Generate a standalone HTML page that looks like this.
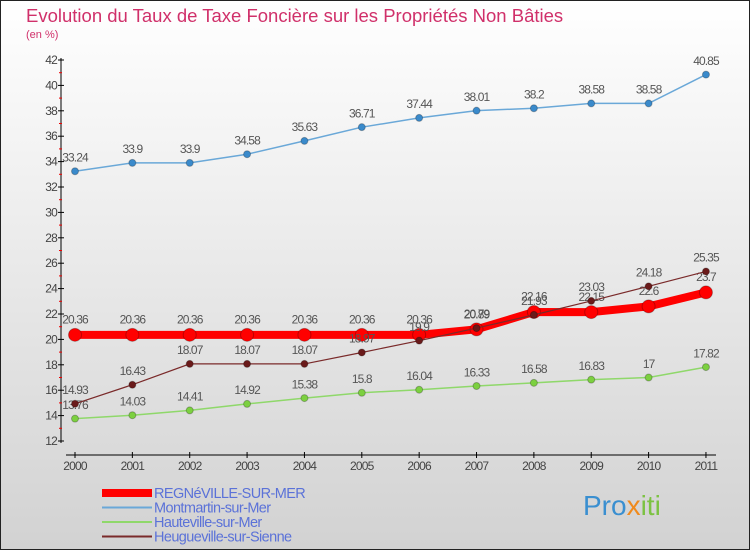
<!DOCTYPE html>
<html><head><meta charset="utf-8"><style>
body{margin:0;width:750px;height:550px;overflow:hidden;font-family:"Liberation Sans",sans-serif}
</style></head><body>
<svg id="c" width="750" height="550" xmlns="http://www.w3.org/2000/svg">
<defs><linearGradient id="bg" x1="0" y1="0" x2="0" y2="1"><stop offset="0" stop-color="#ffffff"/><stop offset="1" stop-color="#d2d2d2"/></linearGradient></defs>
<rect x="0.5" y="0.5" width="749" height="549" fill="url(#bg)" stroke="#222"/>
<text x="26" y="22" font-size="18.5" fill="#d0306a">Evolution du Taux de Taxe Foncière sur les Propriétés Non Bâties</text>
<text x="26" y="38" font-size="11" fill="#d0306a">(en %)</text>
<g id="axes"></g><g id="series"></g><g id="legend"></g>
<text x="583" y="515" font-size="28" fill="#3a8fd0">Pro<tspan fill="#f08a1c">x</tspan><tspan fill="#7cc242">iti</tspan></text>
</svg>
<script>
const years=["2000","2001","2002","2003","2004","2005","2006","2007","2008","2009","2010","2011"];
const yTicks=[12,14,16,18,20,22,24,26,28,30,32,34,36,38,40,42];
const regneville=[20.36,20.36,20.36,20.36,20.36,20.36,20.36,20.79,22.16,22.15,22.6,23.7];
const montmartin=[33.24,33.9,33.9,34.58,35.63,36.71,37.44,38.01,38.2,38.58,38.58,40.85];
const hauteville=[13.76,14.03,14.41,14.92,15.38,15.8,16.04,16.33,16.58,16.83,17,17.82];
const heugueville=[14.93,16.43,18.07,18.07,18.07,18.97,19.9,20.89,21.93,23.03,24.18,25.35];
const seriesNames=["REGNéVILLE-SUR-MER","Montmartin-sur-Mer","Hauteville-sur-Mer","Heugueville-sur-Sienne"];
const NS="http://www.w3.org/2000/svg";
const X=i=>75+i*57.36, Y=v=>441-(v-12)*12.7;
function mk(t,a,p){const e=document.createElementNS(NS,t);for(const k in a)e.setAttribute(k,a[k]);p.appendChild(e);return e;}
const ax=document.getElementById('axes');
let l=mk('line',{x1:61,y1:58,x2:61,y2:443,stroke:'#000'},ax);

l=mk('line',{x1:66,y1:455,x2:716,y2:455,stroke:'#000'},ax);

yTicks.forEach(v=>{
 mk('line',{x1:58,y1:Y(v),x2:64,y2:Y(v),stroke:'#000'},ax);
 if(v<42)mk('line',{x1:59,y1:Y(v+1),x2:62,y2:Y(v+1),stroke:'#e00'},ax);
 const t=mk('text',{x:57,y:Y(v)+4,'font-size':12,'text-anchor':'end',fill:'#444','letter-spacing':'-0.8'},ax);
 t.textContent=v;
});
years.forEach((y,i)=>{
 mk('line',{x1:X(i),y1:452,x2:X(i),y2:458,stroke:'#000'},ax);
 const t=mk('text',{x:X(i),y:470,'font-size':12,'text-anchor':'middle',fill:'#444','letter-spacing':'-0.8'},ax);
 t.textContent=y;
});
const sg=document.getElementById('series');
function draw(vals,color,w,r,name,ptColor){
 const g=mk('g',{},sg);
 mk('polyline',{points:vals.map((v,i)=>X(i)+','+Y(v)).join(' '),fill:'none',stroke:color,'stroke-width':w},g);
 vals.forEach((v,i)=>{
  const c=mk('circle',{cx:X(i),cy:Y(v),r:r,fill:ptColor,stroke:'#00000040'},g);
  
  const t=mk('text',{x:X(i),y:Y(v)-8-r/2,'font-size':12,'text-anchor':'middle',fill:'#555','letter-spacing':'-0.9'},g);
  t.textContent=v;
 });
}
draw(montmartin,'#6aa8d8',1.5,3.5,'series-montmartin','#3a8acb');
draw(hauteville,'#8fd86a',1.5,3.5,'series-hauteville','#7cd040');
draw(regneville,'#ff0000',8,6.5,'series-regneville','#ff0000');
draw(heugueville,'#7a2a2a',1.2,3.5,'series-heugueville','#6a1a1a');
const lg=document.getElementById('legend');
const lc=['#ff0000','#6aa8d8','#8fd86a','#7a2a2a'],lw=[8,2,2,2];
seriesNames.forEach((n,i)=>{
 const y=493+i*14.5;
 const g=mk('g',{},lg);
 mk('line',{x1:102,y1:y,x2:152,y2:y,stroke:lc[i],'stroke-width':lw[i]},g);
 const t=mk('text',{x:154,y:y+5,'font-size':14.5,fill:'#5b72d8','letter-spacing':'-0.6'},g);t.textContent=n;
});
</script>
</body></html>
